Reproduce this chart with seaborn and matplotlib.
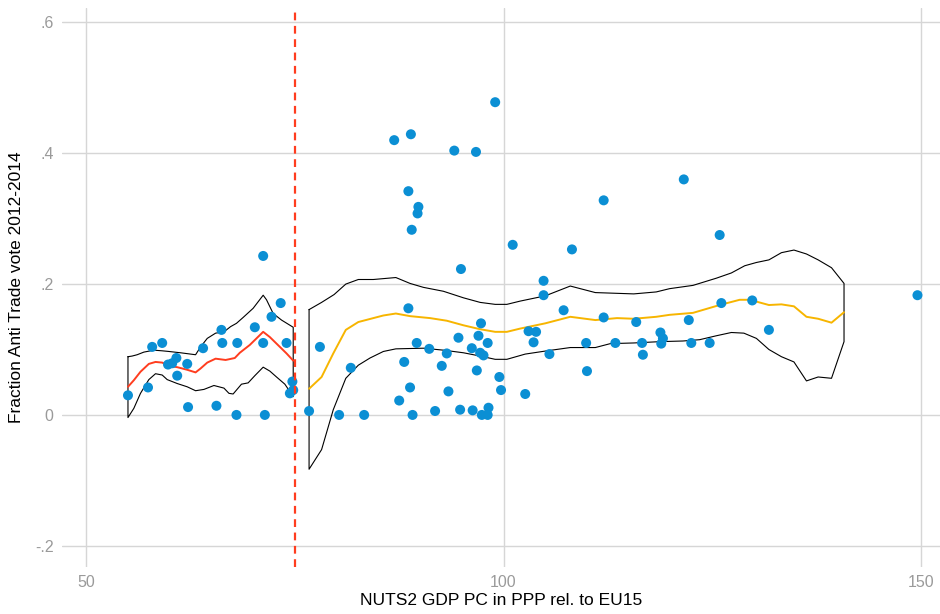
import numpy as np
import pandas as pd
import matplotlib
matplotlib.use('Agg')
import matplotlib.pyplot as plt
import seaborn as sns

# regional data: GDP pc (PPP, EU15=100) vs anti-trade vote share
gdp = [55.0, 57.4, 57.9, 59.1, 59.8, 60.3, 60.8, 60.9, 62.1, 62.2, 64.0, 65.6, 66.2, 66.3,
       68.0, 68.1, 70.2, 71.2, 71.2, 71.4, 72.2, 73.3, 74.0, 74.7, 74.4, 74.8,
       76.7, 78.0, 80.3, 81.7, 83.3, 86.9, 88.9, 88.6, 89.8, 89.7, 89.0, 88.6, 89.6, 88.1,
       88.8, 87.5, 89.1, 91.1, 93.2, 92.6, 93.4, 91.8, 94.1, 96.7, 94.9, 94.6, 96.2, 96.8,
       94.8, 96.3, 97.3, 97.0, 98.1, 97.2, 97.6, 99.5, 99.7, 98.2, 97.4, 98.1, 99.0,
       101.1, 102.6, 103.0, 103.9, 103.6, 104.8, 104.8, 105.5, 107.2, 108.2, 109.9, 110.0,
       112.0, 112.0, 113.4, 115.9, 116.6, 116.7, 118.8, 119.1, 118.9, 121.6, 122.2, 122.5,
       124.7, 125.9, 126.1, 129.8, 131.8, 149.6]
vote = [0.030, 0.042, 0.104, 0.110, 0.077, 0.079, 0.087, 0.060, 0.078, 0.012, 0.102, 0.014, 0.130, 0.110,
        0.000, 0.110, 0.134, 0.243, 0.110, 0.000, 0.150, 0.171, 0.110, 0.051, 0.033, 0.038,
        0.006, 0.104, 0.000, 0.072, 0.000, 0.420, 0.429, 0.342, 0.318, 0.308, 0.283, 0.163, 0.110, 0.081,
        0.042, 0.022, 0.000, 0.101, 0.094, 0.075, 0.036, 0.006, 0.404, 0.402, 0.223, 0.118, 0.102, 0.068,
        0.008, 0.007, 0.140, 0.121, 0.110, 0.095, 0.091, 0.058, 0.038, 0.011, 0.000, 0.000, 0.478,
        0.260, 0.032, 0.128, 0.127, 0.111, 0.205, 0.183, 0.093, 0.160, 0.253, 0.110, 0.067,
        0.328, 0.149, 0.110, 0.142, 0.110, 0.092, 0.126, 0.117, 0.109, 0.360, 0.145, 0.110,
        0.110, 0.275, 0.171, 0.175, 0.130, 0.183]

# left of threshold: local fit and 95% CI
left_x = [55.0, 55.7, 56.5, 57.5, 58.3, 59.1, 59.9, 60.9, 62.1, 63.1, 63.7, 64.5, 65.5,
          66.7, 67.8, 68.4, 69.6, 71.2, 72.0, 73.2, 74.0, 74.8]
left_fit = [0.043, 0.053, 0.066, 0.078, 0.081, 0.080, 0.075, 0.073, 0.069, 0.065, 0.071, 0.080, 0.086,
            0.084, 0.087, 0.095, 0.107, 0.127, 0.119, 0.104, 0.094, 0.083]
left_up_x = [55.0, 55.5, 56.1, 56.9, 58.1, 59.1, 59.9, 61.3, 62.5, 63.1, 63.7, 64.5, 65.5,
             66.5, 67.3, 68.0, 68.8, 70.0, 71.2, 71.6, 72.4, 73.4, 74.8]
left_up = [0.089, 0.090, 0.092, 0.096, 0.099, 0.098, 0.097, 0.095, 0.093, 0.092, 0.104, 0.117, 0.125,
           0.127, 0.135, 0.140, 0.149, 0.163, 0.183, 0.176, 0.155, 0.145, 0.134]
left_lo_x = [55.0, 55.7, 56.5, 57.5, 58.3, 59.1, 59.7, 60.9, 62.1, 63.1, 64.1, 65.3, 66.5,
             67.1, 67.6, 68.0, 68.6, 69.4, 70.2, 71.2, 72.0, 72.8, 73.8, 74.8]
left_lo = [-0.004, 0.010, 0.033, 0.054, 0.063, 0.061, 0.054, 0.048, 0.043, 0.037, 0.039, 0.045, 0.041,
           0.033, 0.032, 0.038, 0.047, 0.049, 0.060, 0.073, 0.067, 0.058, 0.047, 0.028]

# right of threshold
right_x = [76.7, 78.2, 79.6, 81.1, 82.6, 84.4, 85.6, 87.1, 88.8, 91.2, 93.2, 95.2, 97.2, 99.0,
           100.4, 102.0, 105.0, 108.0, 111.0, 113.6, 115.6, 118.3, 119.9, 122.7, 125.9,
           128.3, 129.5, 131.8, 133.3, 134.8, 136.3, 137.7, 139.3, 140.8]
right_fit = [0.040, 0.058, 0.094, 0.130, 0.142, 0.148, 0.152, 0.155, 0.151, 0.148, 0.144, 0.137, 0.131, 0.127,
             0.127, 0.132, 0.140, 0.150, 0.145, 0.148, 0.147, 0.150, 0.153, 0.156, 0.168,
             0.176, 0.176, 0.168, 0.169, 0.166, 0.150, 0.147, 0.141, 0.157]
right_up_x = [76.7, 78.2, 79.7, 81.1, 82.6, 84.4, 87.1, 88.8, 90.4, 92.8, 95.2, 97.2, 99.0, 100.4,
              102.0, 105.0, 108.0, 111.0, 115.6, 118.3, 119.9, 122.7, 125.5, 127.3, 128.9,
              130.3, 131.8, 133.3, 134.8, 136.3, 137.7, 139.3, 140.8]
right_up = [0.161, 0.172, 0.184, 0.200, 0.207, 0.207, 0.210, 0.201, 0.195, 0.189, 0.179, 0.172, 0.169, 0.169,
            0.174, 0.182, 0.197, 0.187, 0.185, 0.188, 0.193, 0.198, 0.209, 0.217, 0.228,
            0.233, 0.237, 0.248, 0.252, 0.246, 0.237, 0.225, 0.201]
right_lo_x = [76.7, 78.2, 79.6, 81.1, 82.6, 84.0, 85.6, 87.1, 90.4, 92.8, 95.2, 97.2, 99.0, 100.4,
              102.6, 105.2, 108.0, 111.0, 112.8, 115.6, 118.7, 121.5, 123.5, 125.5, 127.3,
              128.8, 130.3, 131.8, 133.3, 134.8, 136.3, 137.7, 139.3, 140.8]
right_lo = [-0.083, -0.053, 0.008, 0.056, 0.076, 0.087, 0.097, 0.101, 0.102, 0.099, 0.095, 0.090, 0.085, 0.085,
            0.093, 0.098, 0.103, 0.103, 0.109, 0.110, 0.112, 0.113, 0.115, 0.121, 0.126,
            0.125, 0.117, 0.100, 0.089, 0.081, 0.052, 0.058, 0.056, 0.112]

threshold = 75

blue = '#0b8fd4'
red = '#ff3d1f'
amber = '#f7b500'
grey_txt = '#9a9a9a'

sns.set_theme(style='white')
plt.rcParams['font.family'] = ['Liberation Sans', 'DejaVu Sans']

fig = plt.figure(figsize=(9.4, 6.14), dpi=100)
ax = fig.add_axes([0.066, 0.077, 0.934, 0.91])

pts = pd.DataFrame({'gdp': gdp, 'vote': vote})


def band(ax, ux, uy, lx, ly):
    # closed outline of the confidence band
    xs = list(ux) + list(lx[::-1]) + [ux[0]]
    ys = list(uy) + list(ly[::-1]) + [uy[0]]
    ax.plot(xs, ys, color='black', lw=0.8, zorder=2)


band(ax, left_up_x, left_up, left_lo_x, left_lo)
band(ax, right_up_x, right_up, right_lo_x, right_lo)

sns.lineplot(x=left_x, y=left_fit, color=red, lw=1.4, ax=ax, zorder=3)
sns.lineplot(x=right_x, y=right_fit, color=amber, lw=1.4, ax=ax, zorder=3)

sns.scatterplot(data=pts, x='gdp', y='vote', color=blue, s=52, edgecolor='none', ax=ax, zorder=4)

ax.axvline(threshold, color=red, lw=1.6, ls=(0, (3.5, 2.5)), zorder=5)

ax.set_xlim(47.1, 152.3)
ax.set_ylim(-0.232, 0.622)
ax.set_xticks([50, 100, 150])
ax.set_yticks([-0.2, 0, 0.2, 0.4, 0.6])
ax.set_yticklabels(['-.2', '0', '.2', '.4', '.6'])
ax.grid(True, color='#d6d6d6', lw=1)
ax.set_axisbelow(True)
for s in ax.spines.values():
    s.set_visible(False)
ax.tick_params(axis='both', length=0, labelsize=11.5, labelcolor=grey_txt, pad=6)
ax.set_xlabel('NUTS2 GDP PC in PPP rel. to EU15', fontsize=12.5, color='black', labelpad=2)
ax.set_ylabel('Fraction Anti Trade vote 2012-2014', fontsize=12.5, color='black', labelpad=8)

fig.savefig('out.png', dpi=100)
